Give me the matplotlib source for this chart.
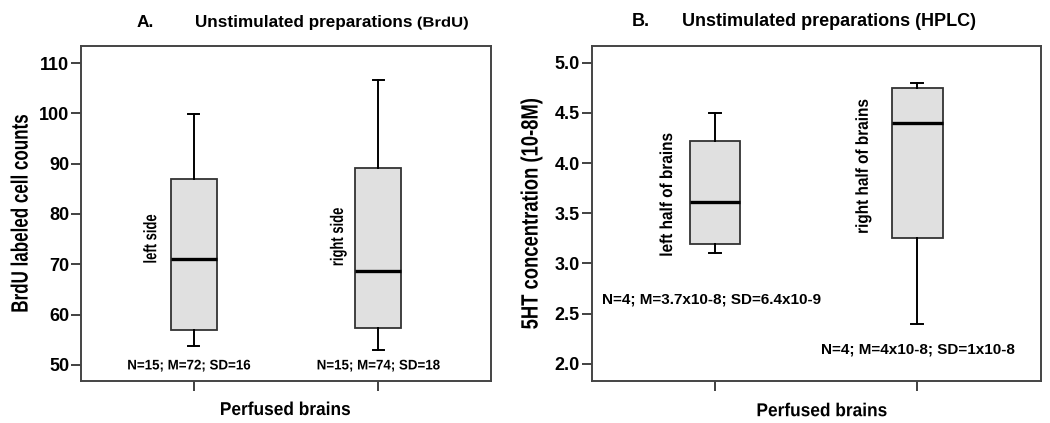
import matplotlib
matplotlib.use("Agg")
import matplotlib.pyplot as plt
from matplotlib.patheffects import AbstractPathEffect
from matplotlib.transforms import Affine2D

plt.rcParams['font.family'] = ['Liberation Sans', 'DejaVu Sans']
plt.rcParams['font.weight'] = 'bold'

# Panel A data (BrdU labeled cell counts)
a_labels = ["left side", "right side"]
a_whislo = [53.7, 52.9]
a_q1 = [56.9, 57.4]
a_med = [71.1, 68.6]
a_q3 = [86.9, 89.1]
a_whishi = [99.9, 106.7]
a_stats = ["N=15; M=72; SD=16", "N=15; M=74; SD=18"]
a_yticks = [50, 60, 70, 80, 90, 100, 110]

# Panel B data (5HT concentration)
b_labels = ["left half of brains", "right half of brains"]
b_whislo = [3.10, 2.40]
b_q1 = [3.19, 3.25]
b_med = [3.61, 4.40]
b_q3 = [4.22, 4.75]
b_whishi = [4.50, 4.80]
b_stats = ["N=4; M=3.7x10-8; SD=6.4x10-9", "N=4; M=4x10-8; SD=1x10-8"]
b_yticks = [2.0, 2.5, 3.0, 3.5, 4.0, 4.5, 5.0]


class Squeeze(AbstractPathEffect):
    """Compress glyphs along the text direction (condensed look)."""
    def __init__(self, sx, anchor='center'):
        super().__init__()
        self.sx = sx
        self.anchor = anchor

    def draw_path(self, renderer, gc, tpath, affine, rgbFace=None):
        ext = tpath.get_extents()
        a = {'left': ext.x0, 'right': ext.x1}.get(self.anchor, (ext.x0 + ext.x1) / 2)
        t = Affine2D().translate(-a, 0).scale(self.sx, 1).translate(a, 0) + affine
        renderer.draw_path(gc, tpath, t, rgbFace)


def sq(t, s, anchor='center'):
    t.set_path_effects([Squeeze(s, anchor)])
    return t


fig = plt.figure(figsize=(10.5, 4.23), dpi=100)
axA = fig.add_axes([0.0771, 0.0993, 0.3905, 0.792])
axB = fig.add_axes([0.5635, 0.0993, 0.4276, 0.792])


def draw(ax, lo, q1, med, q3, hi):
    stats = [dict(whislo=lo[i], q1=q1[i], med=med[i], q3=q3[i], whishi=hi[i], fliers=[])
             for i in range(len(lo))]
    ax.bxp(stats, positions=[1, 2], widths=0.25, patch_artist=True, showfliers=False,
           boxprops=dict(facecolor='#e0e0e0', edgecolor='#333333', linewidth=1.3),
           medianprops=dict(color='black', linewidth=2.4),
           whiskerprops=dict(color='black', linewidth=1.4),
           capprops=dict(color='black', linewidth=1.4), capwidths=0.06)
    ax.set_xlim(0.39, 2.61)
    ax.set_xticks([1, 2])
    ax.set_xticklabels(['', ''])
    for s in ax.spines.values():
        s.set_color('#444444')
        s.set_linewidth(1.4)
    ax.tick_params(axis='both', direction='out', length=7, width=1.3, color='#333333', pad=1.5)


def finish_labels(ax, ylabel, ylx, squeeze):
    for t in ax.get_yticklabels():
        t.set_fontweight('bold')
        t.set_fontsize(13)
    yl = ax.set_ylabel(ylabel, fontsize=17, fontweight='bold')
    yl.set_va('center')
    ax.yaxis.set_label_coords(ylx, 0.5)
    sq(yl, squeeze)


draw(axA, a_whislo, a_q1, a_med, a_q3, a_whishi)
axA.set_ylim(46.8, 113.4)
axA.set_yticks(a_yticks)
axA.set_yticklabels([str(v) for v in a_yticks])
finish_labels(axA, "BrdU labeled cell counts", -0.146, 0.72)
xlA = axA.set_xlabel("Perfused brains", fontsize=13.4, fontweight='bold')
xlA.set_va('baseline')
axA.xaxis.set_label_coords(0.4976, -0.1015)
sq(xlA, 0.93)
for i, lab in enumerate(a_labels):
    sq(axA.text([0.773, 1.784][i], [75.0, 75.4][i], lab, rotation=90, rotation_mode='anchor',
                ha='center', va='center', fontsize=13), 0.72)
for i, st in enumerate(a_stats):
    sq(axA.text([0.976, 2.002][i], 49.1, st, ha='center', va='baseline', fontsize=10), 0.96)

draw(axB, b_whislo, b_q1, b_med, b_q3, b_whishi)
axB.set_ylim(1.83, 5.166)
axB.set_yticks(b_yticks)
axB.set_yticklabels([f"{v:.1f}" for v in b_yticks])
finish_labels(axB, "5HT concentration (10-8M)", -0.135, 0.78)
xlB = axB.set_xlabel("Perfused brains", fontsize=13.4, fontweight='bold')
xlB.set_va('baseline')
axB.xaxis.set_label_coords(0.512, -0.105)
sq(xlB, 0.93)
for i, lab in enumerate(b_labels):
    sq(axB.text([0.765, 1.733][i], [3.686, 3.97][i], lab, rotation=90, rotation_mode='anchor',
                ha='center', va='center', fontsize=12.5), 0.885)
axB.text(0.981, 2.598, b_stats[0], ha='center', va='baseline', fontsize=11)
axB.text(2.002, 2.106, b_stats[1], ha='center', va='baseline', fontsize=11)

# Titles
fig.text(137/1050, 1 - 26.7/423, "A.", ha='left', va='baseline', fontsize=12.5, fontweight='bold')
fig.text(195/1050, 1 - 26.7/423, "Unstimulated preparations", ha='left', va='baseline',
         fontsize=12.3, fontweight='bold')
sq(fig.text(417/1050, 1 - 26.7/423, "(BrdU)", ha='left', va='baseline', fontsize=10,
            fontweight='bold'), 1.2, 'left')
fig.text(632/1050, 1 - 25.5/423, "B.", ha='left', va='baseline', fontsize=13, fontweight='bold')
fig.text(682/1050, 1 - 25.5/423, "Unstimulated preparations (HPLC)", ha='left', va='baseline',
         fontsize=13, fontweight='bold')

fig.savefig("out.png", dpi=100)
